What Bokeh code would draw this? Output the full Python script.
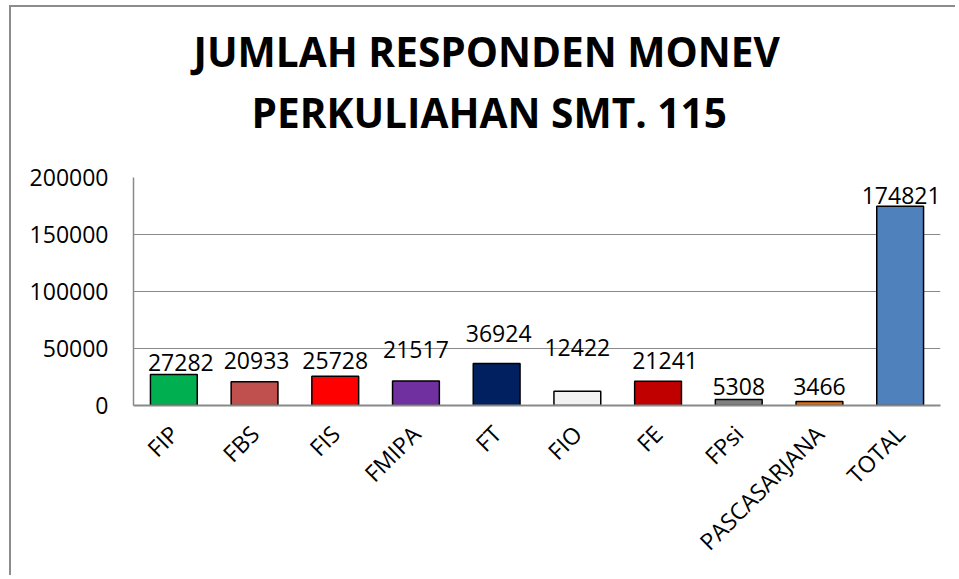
import math
from bokeh.plotting import figure
from bokeh.models import ColumnDataSource, Title, FixedTicker, NumeralTickFormatter
from bokeh.core.properties import value
from bokeh.embed import file_html
from bokeh.resources import INLINE

categories = ["FIP", "FBS", "FIS", "FMIPA", "FT", "FIO", "FE", "FPsi", "PASCASARJANA", "TOTAL"]
responden = [27282, 20933, 25728, 21517, 36924, 12422, 21241, 5308, 3466, 174821]
bar_colors = ["#00B050", "#C0504D", "#FF0000", "#7030A0", "#002060",
              "#F2F2F2", "#C00000", "#808080", "#E46C0A", "#4F81BD"]
y_ticks = [0, 50000, 100000, 150000, 200000]
title_lines = ["JUMLAH RESPONDEN MONEV", "PERKULIAHAN SMT. 115"]

# label placement (pixels) as arranged in the original chart
label_gap_px = [12, 21, 16, 31, 30, 44, 21, 13, 15, 11]
label_dx_px = [7, 2, 0, 0, 2, 0, 7, 0, 0, 1]

FONT = "Open Sans"

src = ColumnDataSource(dict(
    cat=categories,
    val=responden,
    color=bar_colors,
    lbl=[str(v) for v in responden],
    yoff=[-g for g in label_gap_px],
    xoff=label_dx_px,
))

p = figure(x_range=categories, y_range=(0, 200000), width=946, height=570,
           output_backend="svg", toolbar_location=None,
           min_border_left=122, min_border_right=17, min_border_top=170, min_border_bottom=172)
p.outline_line_color = None
p.background_fill_color = "white"
p.border_fill_color = "white"
p.styles = {"margin-left": "9px", "margin-top": "5px",
            "border-left": "2px solid #8C8C8C", "border-top": "2px solid #8C8C8C"}

p.vbar(x="cat", top="val", width=0.58, source=src, fill_color="color",
       line_color="black", line_width=1.5)

p.text(x="cat", y="val", text="lbl", source=src, text_font=value(FONT),
       text_font_size="23px", text_align="center", text_baseline="alphabetic",
       y_offset="yoff", x_offset="xoff", text_color="black")

# axes
p.yaxis.ticker = FixedTicker(ticks=y_ticks)
p.yaxis.formatter = NumeralTickFormatter(format="0")
p.yaxis.major_label_text_font = FONT
p.yaxis.major_label_text_font_size = "23px"
p.yaxis.major_label_text_color = "black"
p.yaxis.major_tick_line_color = None
p.yaxis.minor_tick_line_color = None
p.yaxis.major_tick_out = 0
p.yaxis.major_tick_in = 0
p.yaxis.major_label_standoff = 25
p.yaxis.axis_line_color = "#898989"
p.yaxis.axis_line_width = 1.5

p.xaxis.major_label_orientation = math.pi / 4
p.xaxis.major_label_text_font = FONT
p.xaxis.major_label_text_font_size = "23px"
p.xaxis.major_label_text_color = "black"
p.xaxis.major_tick_line_color = None
p.xaxis.major_tick_out = 0
p.xaxis.major_tick_in = 0
p.xaxis.major_label_standoff = 24
p.xaxis.axis_line_color = "#898989"
p.xaxis.axis_line_width = 2

p.xgrid.grid_line_color = None
p.ygrid.grid_line_color = "#898989"
p.ygrid.grid_line_width = 1
p.ygrid.ticker = FixedTicker(ticks=y_ticks)

# title: panels stack outward from the plot (spacer, line 2, line 1)
p.add_layout(Title(text="\u00a0", text_font_size="1px", standoff=35), "above")
p.add_layout(Title(text=title_lines[1], align="left", offset=118,
                   text_font=FONT, text_font_style="bold", text_font_size="40.6px",
                   text_color="black", standoff=0), "above")
p.add_layout(Title(text=title_lines[0], align="left", offset=60,
                   text_font=FONT, text_font_style="bold", text_font_size="40.6px",
                   text_color="black", standoff=8), "above")

open("out.html", "w").write(file_html(p, INLINE))
